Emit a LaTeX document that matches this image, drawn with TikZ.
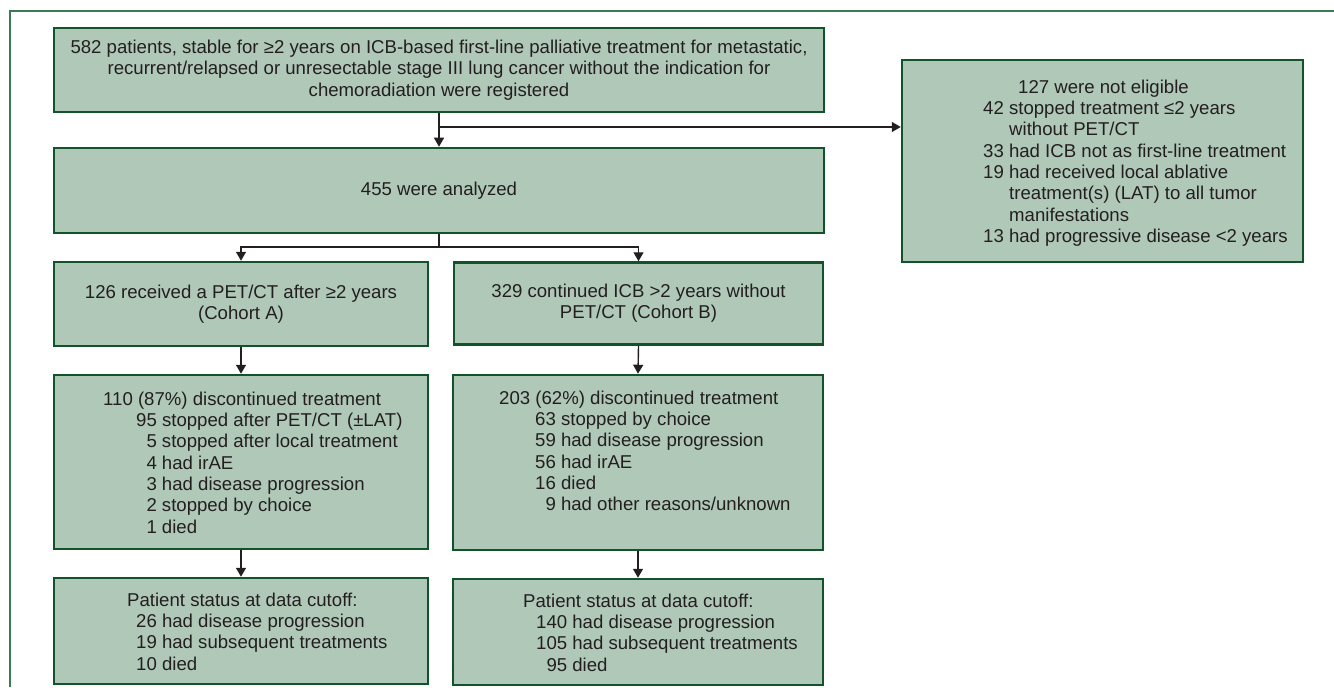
\documentclass[tikz,border=0pt]{standalone}
\usepackage{fontspec}
\setmainfont{Liberation Sans}
\usetikzlibrary{arrows.meta}
\definecolor{boxfill}{RGB}{176,200,184}
\definecolor{boxline}{RGB}{18,84,42}
\definecolor{framecol}{RGB}{60,122,84}
\definecolor{ink}{RGB}{35,31,32}
\tikzset{
  box/.style={draw=boxline, line width=2.5bp, fill=boxfill, inner sep=0pt, align=center, text=ink,
              font=\fontsize{18.6bp}{21.3bp}\selectfont},
  listtext/.style={anchor=north west, inner sep=0pt, align=left, text=ink,
              font=\fontsize{18.6bp}{21.3bp}\selectfont},
  arr/.style={draw=ink, line width=1.4bp, -{Triangle[length=9bp,width=10bp]}},
  ln/.style={draw=ink, line width=1.4bp}
}
\newcommand{\tallrule}{\rule{0pt}{15bp}}
\begin{document}
\begin{tikzpicture}[x=1bp,y=-1bp]
\useasboundingbox (0,0) rectangle (1334,687);
% outer frame
\draw[framecol, line width=1.5bp] (10,687) -- (10,11) -- (1334,11);
% boxes
\node[box, minimum width=770bp, minimum height=84bp] (top) at (439,70)
  {582 patients, stable for ≥2 years on ICB-based first-line palliative treatment for metastatic,\\
   recurrent/relapsed or unresectable stage III lung cancer without the indication for\\
   chemoradiation were registered};
\node[box, minimum width=770bp, minimum height=85bp] (ana) at (439,190.5) {455 were analyzed};
\node[box, minimum width=401bp, minimum height=202bp] (excl) at (1102.5,161) {};
\node[box, minimum width=374bp, minimum height=84bp] (A) at (241,304)
  {126 received a PET/CT after ≥2 years\\(Cohort A)};
\node[box, minimum width=369bp, minimum height=82bp] (B) at (638.5,303.5)
  {329 continued ICB >2 years without\\PET/CT (Cohort B)};
\node[box, minimum width=374bp, minimum height=174bp] (A2) at (241,462) {};
\node[box, minimum width=370bp, minimum height=175bp] (B2) at (638,462.5) {};
\node[box, minimum width=374bp, minimum height=106bp] (A3) at (241,631) {};
\node[box, minimum width=370bp, minimum height=106bp] (B3) at (638,632) {};
% list texts
\node[listtext] (exclt) at (983,78)
  {\hspace*{35bp}\tallrule 127 were not eligible\\
   42 stopped treatment ≤2 years\\
   \hspace*{26bp}without PET/CT\\
   33 had ICB not as first-line treatment\\
   19 had received local ablative\\
   \hspace*{26bp}treatment(s) (LAT) to all tumor\\
   \hspace*{26bp}manifestations\\
   13 had progressive disease <2 years};
\node[listtext] (A2t) at (103,390)
  {\tallrule 110 (87\%) discontinued treatment\\
   \hspace*{33bp}95 stopped after PET/CT (±LAT)\\
   \hspace*{43.3bp}5 stopped after local treatment\\
   \hspace*{43.3bp}4 had irAE\\
   \hspace*{43.3bp}3 had disease progression\\
   \hspace*{43.3bp}2 stopped by choice\\
   \hspace*{43.3bp}1 died};
\node[listtext] (B2t) at (499,389)
  {\tallrule 203 (62\%) discontinued treatment\\
   \hspace*{36bp}63 stopped by choice\\
   \hspace*{36bp}59 had disease progression\\
   \hspace*{36bp}56 had irAE\\
   \hspace*{36bp}16 died\\
   \hspace*{46.3bp}9 had other reasons/unknown};
\node[listtext] (A3t) at (127,591)
  {\tallrule Patient status at data cutoff:\\
   \hspace*{9bp}26 had disease progression\\
   \hspace*{9bp}19 had subsequent treatments\\
   \hspace*{9bp}10 died};
\node[listtext] (B3t) at (523,592)
  {\tallrule Patient status at data cutoff:\\
   \hspace*{13bp}140 had disease progression\\
   \hspace*{13bp}105 had subsequent treatments\\
   \hspace*{23.3bp}95 died};
% connectors
\coordinate (j1) at (top.south |- 0,127);
\coordinate (j2) at (ana.south |- 0,247);
\draw[arr] (top.south) -- (ana.north);
\draw[arr] (j1) -- (j1 -| excl.west);
\draw[ln] (ana.south) -- (j2);
\draw[arr] (j2) -| (A.north);
\draw[arr] (j2) -| (B.north);
\draw[arr] (A.south) -- (A2.north);
\draw[arr] (B.south) -- (B2.north);
\draw[arr] (A2.south) -- (A3.north);
\draw[arr] (B2.south) -- (B3.north);
\end{tikzpicture}
\end{document}
